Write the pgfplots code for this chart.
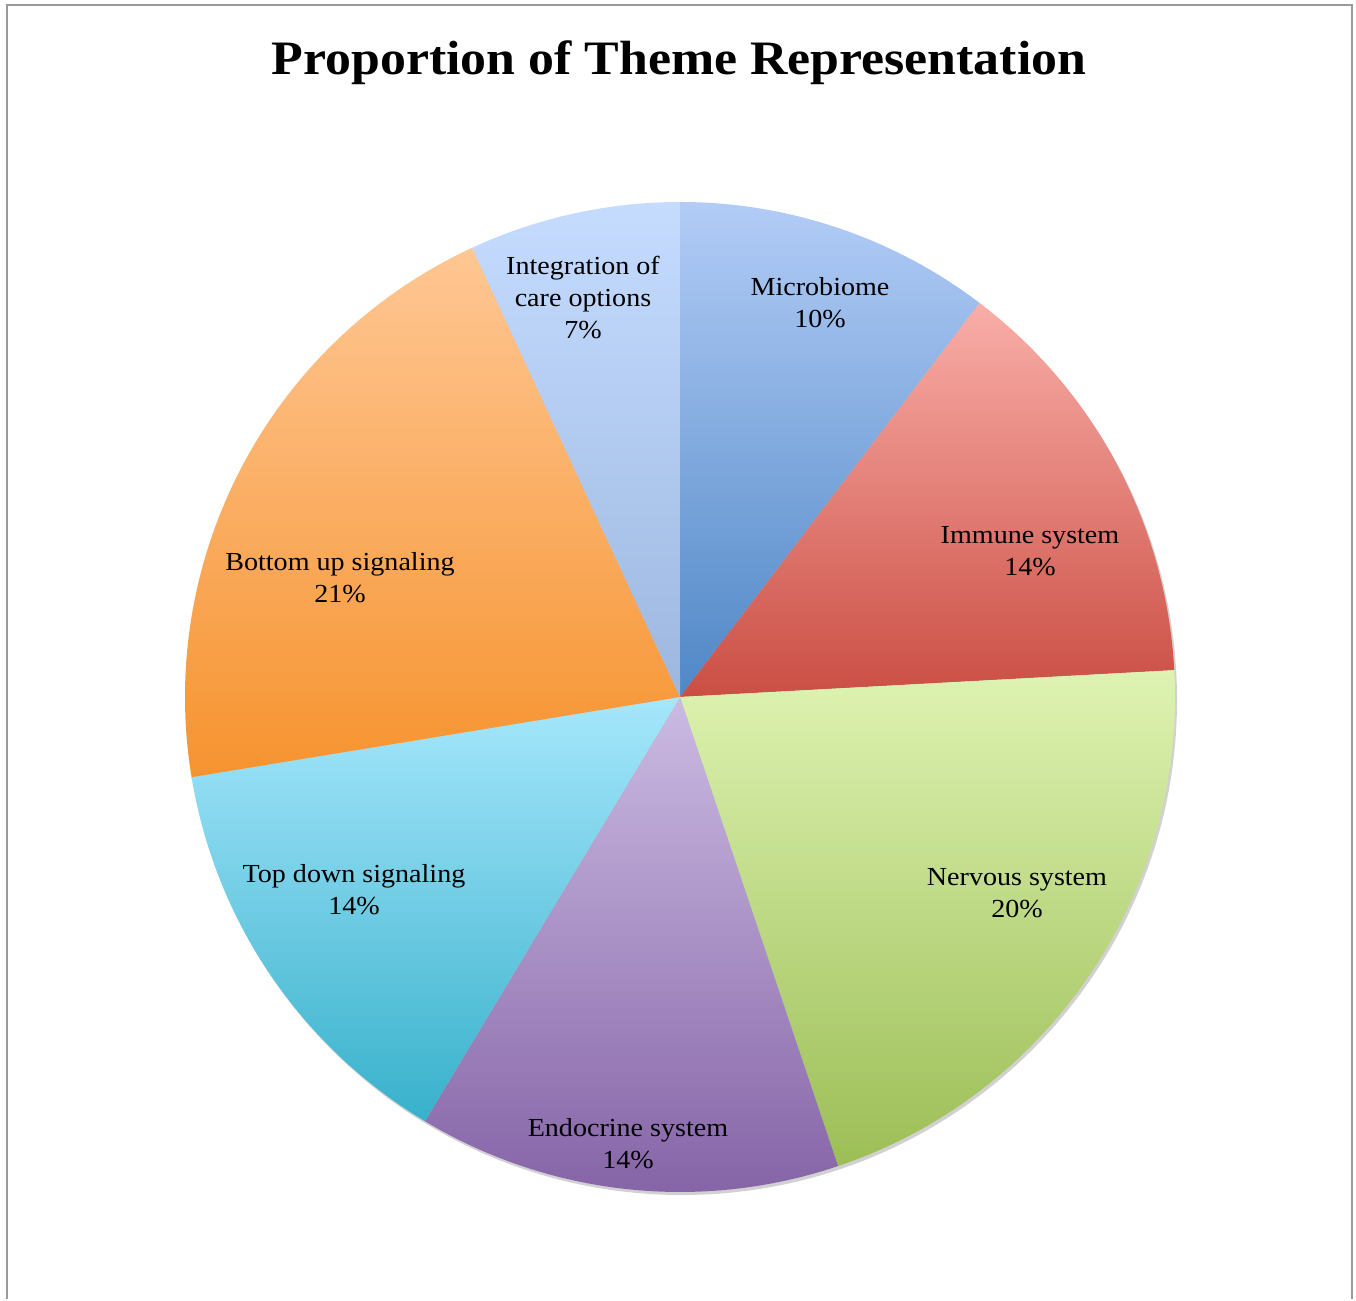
\documentclass[border=0pt]{standalone}
\usepackage{pgfplots}
\pgfplotsset{compat=1.18}
\usepackage{fontspec}
\setmainfont{Liberation Serif}[FakeStretch=1.08]
\definecolor{frame}{HTML}{9A9A9A}
\definecolor{mbT}{HTML}{B2CCF6}\definecolor{mbB}{HTML}{4F87C6}
\definecolor{imT}{HTML}{F9AEA8}\definecolor{imB}{HTML}{CB4E44}
\definecolor{nvT}{HTML}{DEF3B2}\definecolor{nvB}{HTML}{9CBE56}
\definecolor{enT}{HTML}{CBBBE2}\definecolor{enB}{HTML}{8361A5}
\definecolor{tdT}{HTML}{A6E7FC}\definecolor{tdB}{HTML}{38B1CB}
\definecolor{buT}{HTML}{FFC794}\definecolor{buB}{HTML}{F6932F}
\definecolor{icT}{HTML}{C5DCFF}\definecolor{icB}{HTML}{9DB7DF}
\begin{document}
\begin{tikzpicture}
% slice values (counts), clockwise from 12 o'clock
\def\vA{3}\def\vB{4}\def\vC{6}\def\vD{4}\def\vE{4}\def\vF{6}\def\vG{2}
\pgfmathsetmacro\tot{\vA+\vB+\vC+\vD+\vE+\vF+\vG}
\pgfmathsetmacro\aA{90}
\pgfmathsetmacro\aB{\aA-\vA/\tot*360}
\pgfmathsetmacro\aC{\aB-\vB/\tot*360}
\pgfmathsetmacro\aD{\aC-\vC/\tot*360}
\pgfmathsetmacro\aE{\aD-\vD/\tot*360}
\pgfmathsetmacro\aF{\aE-\vE/\tot*360}
\pgfmathsetmacro\aG{\aF-\vF/\tot*360}
\pgfmathsetmacro\aH{\aG-\vG/\tot*360}
\def\R{247.5pt}
\begin{axis}[
  scale only axis, width=678pt, height=649.5pt,
  xmin=0, xmax=1356, ymin=0, ymax=1299,
  hide axis, clip=false]
\path (axis cs:0,0) rectangle (axis cs:1356,1299);
\draw[frame, line width=1.2pt] (axis cs:7,0) -- (axis cs:7,1294) -- (axis cs:1352,1294) -- (axis cs:1352,0);
\node[font=\bfseries\fontsize{24}{28}\selectfont] at (axis cs:679,1236) {Proportion of Theme Representation};
% shadow
\fill[black!18] (axis cs:682,599) circle[radius=\R];
\shade[top color=mbT, bottom color=mbB] (axis cs:680,602) -- ++(\aA:\R) arc[start angle=\aA, end angle=\aB, radius=\R] -- cycle;
\shade[top color=imT, bottom color=imB] (axis cs:680,602) -- ++(\aB:\R) arc[start angle=\aB, end angle=\aC, radius=\R] -- cycle;
\shade[top color=nvT, bottom color=nvB] (axis cs:680,602) -- ++(\aC:\R) arc[start angle=\aC, end angle=\aD, radius=\R] -- cycle;
\shade[top color=enT, bottom color=enB] (axis cs:680,602) -- ++(\aD:\R) arc[start angle=\aD, end angle=\aE, radius=\R] -- cycle;
\shade[top color=tdT, bottom color=tdB] (axis cs:680,602) -- ++(\aE:\R) arc[start angle=\aE, end angle=\aF, radius=\R] -- cycle;
\shade[top color=buT, bottom color=buB] (axis cs:680,602) -- ++(\aF:\R) arc[start angle=\aF, end angle=\aG, radius=\R] -- cycle;
\shade[top color=icT, bottom color=icB] (axis cs:680,602) -- ++(\aG:\R) arc[start angle=\aG, end angle=\aH, radius=\R] -- cycle;
\tikzset{lab/.style={align=center, font=\fontsize{13}{16}\selectfont, inner sep=0pt}}
\node[lab] at (axis cs:820,996) {Microbiome\\10\%};
\node[lab] at (axis cs:1030,748) {Immune system\\14\%};
\node[lab] at (axis cs:1017,406) {Nervous system\\20\%};
\node[lab] at (axis cs:628,155) {Endocrine system\\14\%};
\node[lab] at (axis cs:354,409) {Top down signaling\\14\%};
\node[lab] at (axis cs:340,721) {Bottom up signaling\\21\%};
\node[lab] at (axis cs:583,1001) {Integration of\\care options\\7\%};
\end{axis}
\end{tikzpicture}
\end{document}
